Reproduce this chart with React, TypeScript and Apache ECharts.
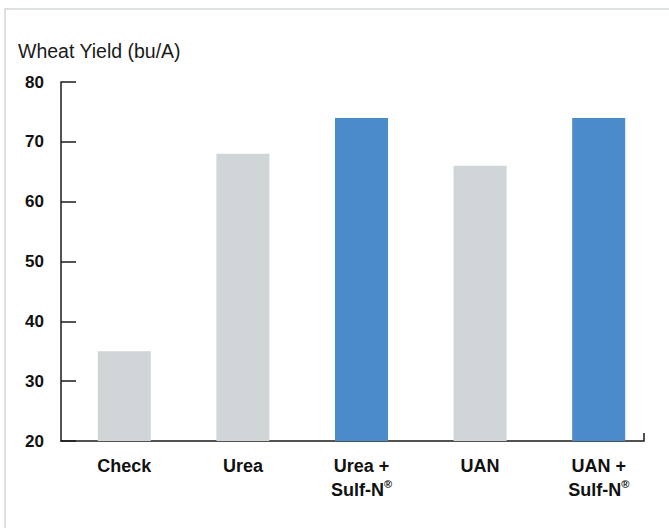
import React, { useEffect, useRef } from "react";
import * as echarts from "echarts";

// ---- data ----
const categories = ["Check", "Urea", "Urea +\nSulf-N®", "UAN", "UAN +\nSulf-N®"];
const yieldValues = [35, 68, 74, 66, 74];
const withSulfN = [false, false, true, false, true];
const yMin = 20;
const yMax = 80;
const yInterval = 10;
const yTitle = "Wheat Yield (bu/A)";

const GRAY = "#D0D5D8";
const BLUE = "#4A8BC9";
const AXIS = "#1a1a1a";
const LABEL_FONT = "'Liberation Sans', Arial, sans-serif";

export default function App() {
  const ref = useRef<HTMLDivElement>(null);

  useEffect(() => {
    if (!ref.current) return;
    const chart = echarts.init(ref.current, null, { renderer: "svg" });

    const option = {
      animation: false,
      backgroundColor: "#ffffff",
      grid: { left: 65, right: 11, top: 82, bottom: 87, containLabel: false },
      xAxis: {
        type: "category",
        data: categories,
        axisLine: { show: false },
        axisTick: { show: false },
        axisLabel: {
          interval: 0,
          margin: 13,
          color: "#111",
          fontFamily: LABEL_FONT,
          fontWeight: "bold",
          fontSize: 18,
          lineHeight: 24,
          formatter: (v: string) => v.replace("®", "{sup|®}"),
          rich: {
            sup: {
              fontFamily: LABEL_FONT,
              fontWeight: "bold",
              fontSize: 11,
              lineHeight: 24,
              verticalAlign: "top",
              color: "#111",
            },
          },
        },
      },
      yAxis: {
        type: "value",
        min: yMin,
        max: yMax,
        interval: yInterval,
        offset: 4,
        splitLine: { show: false },
        axisLine: { show: true, lineStyle: { color: AXIS, width: 1.5 } },
        axisTick: { show: true, inside: true, length: 15, lineStyle: { color: AXIS, width: 1.5 } },
        axisLabel: {
          margin: 17,
          color: "#111",
          fontFamily: LABEL_FONT,
          fontWeight: "bold",
          fontSize: 17,
        },
      },
      series: [
        {
          type: "bar",
          barWidth: 53,
          data: yieldValues.map((v, i) => ({
            value: v,
            itemStyle: { color: withSulfN[i] ? BLUE : GRAY },
          })),
        },
      ],
      graphic: [
        {
          type: "rect",
          silent: true,
          shape: { x: 5, y: 9, width: 800, height: 700 },
          style: { fill: "none", stroke: "#D3D7D9", lineWidth: 1.5 },
        },
        {
          type: "text",
          x: 18,
          y: 51,
          style: {
            text: yTitle,
            fontFamily: "'Liberation Sans', Arial, sans-serif",
            fontSize: 19.5,
            fill: "#1a1a1a",
            verticalAlign: "middle",
            align: "left",
          },
        },
        {
          type: "polyline",
          silent: true,
          shape: { points: [[60.5, 441], [644, 441], [644, 433]] },
          style: { stroke: AXIS, lineWidth: 1.5, fill: "none" },
        },
      ],
    };

    chart.setOption(option as any);
    return () => chart.dispose();
  }, []);

  return (
    <div
      ref={ref}
      style={{ position: "absolute", left: 0, top: 0, width: 669, height: 528 }}
    />
  );
}
